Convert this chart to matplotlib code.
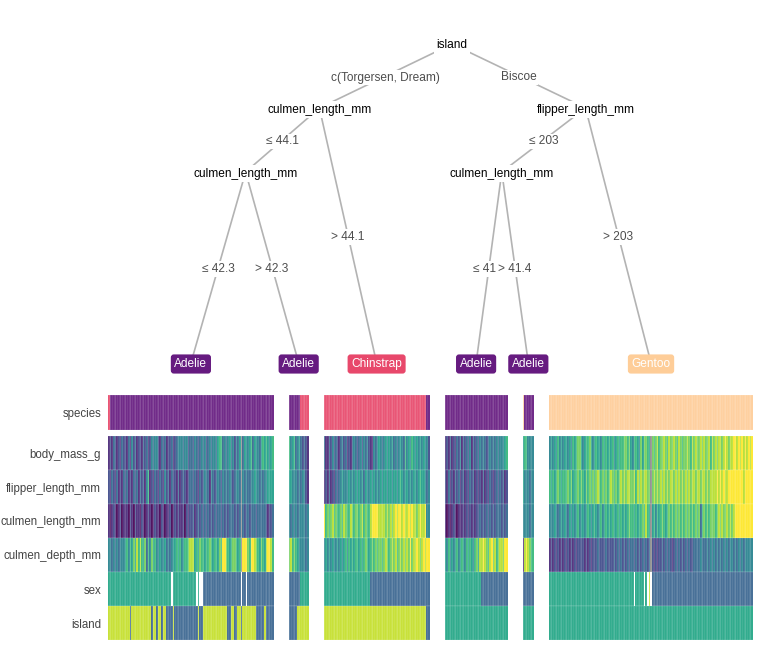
import matplotlib.pyplot as plt
import numpy as np
from matplotlib import cm

plt.rcParams['font.family'] = ['Liberation Sans', 'DejaVu Sans']

# ---- leaves (left to right) ----
leaf_class = ['Adelie', 'Adelie', 'Chinstrap', 'Adelie', 'Adelie', 'Gentoo']
leaf_n = [100, 12, 64, 38, 7, 123]

species_runs = [
    [('Chinstrap', 1), ('Adelie', 99)],
    [('Adelie', 7), ('Chinstrap', 5)],
    [('Chinstrap', 62), ('Adelie', 2)],
    [('Adelie', 38)],
    [('Gentoo', 1), ('Adelie', 6)],
    [('Gentoo', 123)],
]

# continuous features, scaled 0..9 per column (n = missing)
body_mass = [
    "1213212132 2131423122 1323124344 2132312231 2344434423 3243234342 3434435663 4345342435 n354456354 4356565456",
    "645634532321",
    "3113242321 3423121343 2342434211 4345434545 4534345436 4546545454 5442",
    "1213121324 1323241323 2434323434 34344456",
    "5664444",
    "4545464545 5454656775 4566754565 5465656564 5656677675 4665475776 5n76786778 7687787687 6778768787 7878778687 8788789878 8998989898 989",
]
flipper = [
    "2132131213 2312132313 2314612132 1321423132 2131232123 3232132343 3143234324 3434323443 n434334454 4343445555",
    "554443434421",
    "1213121323 4544454545 4545354454 5454545545 5455456545 5454554565 5434",
    "2131213231 2312132312 1213121321 23232312",
    "5444344",
    "6565676566 6767566767 6576767678 7676767876 7678787887 7868787887 7n78787878 7878878787 8787878878 8788787888 8989898899 9999999899 999",
]
culmen_len = [
    "1012101201 1102102110 2101210121 1021011201 2121120212 2312323232 3232323323 2323332323 n323323332 3333321223",
    "434343444434",
    "9676786766 7687668767 7678676689 9998888787 8789899898 8989887898 8944",
    "1010121011 1212121212 2323232323 23332323",
    "4444344",
    "4445434545 4354545645 5456545654 5645656565 5656565676 6565667686 5n56465676 5676767676 7676767676 7367676777 6787877878 7899999999 999",
]
culmen_dep = [
    "4434343444 5646575868 6573647564 4544534345 5656456678 8856576656 6765665769 9765677656 n999769987 6576589986",
    "786765444434",
    "4545454454 5456465656 6565676567 6767767876 7878678787 8797889878 9899",
    "5464545645 6546565467 5889876897 86788799",
    "1898766",
    "1212121212 1212121222 2121212223 2222322223 2323232323 3232323232 3n21212232 3232123232 3232322333 3433343434 3434343434 4343434344 444",
]

sex_runs = [
    [('F', 38), ('NA', 1), ('F', 14), ('NA', 1), ('F', 1), ('NA', 2), ('M', 23), ('NA', 1), ('M', 2), ('NA', 1), ('M', 16)],
    [('M', 7), ('F', 5)],
    [('F', 28), ('M', 36)],
    [('F', 22), ('M', 16)],
    [('M', 7)],
    [('F', 51), ('NA', 1), ('F', 5), ('NA', 1), ('F', 1), ('NA', 1), ('.', 1), ('NA', 1), ('M', 61)],
]
island_runs = [
    [('D', 13), ('T', 1), ('D', 12), ('T', 1), ('D', 2), ('T', 1), ('D', 2), ('T', 1), ('D', 2), ('T', 4), ('D', 1),
     ('T', 14), ('D', 1), ('T', 2), ('D', 15), ('T', 2), ('D', 2), ('T', 2), ('D', 2), ('T', 1), ('D', 8), ('T', 5),
     ('D', 1), ('T', 5)],
    [('T', 5), ('D', 7)],
    [('D', 62), ('T', 2)],
    [('B', 38)],
    [('B', 7)],
    [('B', 123)],
]

row_labels = ['species', 'body_mass_g', 'flipper_length_mm', 'culmen_length_mm', 'culmen_depth_mm', 'sex', 'island']

# ---- tree ----
node_label = ['island', 'culmen_length_mm', 'culmen_length_mm', 'flipper_length_mm', 'culmen_length_mm']
node_x = [207.5, 127.5, 83.0, 288.0, 237.5]
node_level = [0, 1, 2, 1, 2]
edges = [
    (0, 1, 'c(Torgersen, Dream)'), (0, 3, 'Biscoe'),
    (1, 2, '≤ 44.1'), (1, 'L2', '> 44.1'),
    (2, 'L0', '≤ 42.3'), (2, 'L1', '> 42.3'),
    (3, 4, '≤ 203'), (3, 'L5', '> 203'),
    (4, 'L3', '≤ 41.4'), (4, 'L4', '> 41.4'),
]

species_col = {'Adelie': '#661b80', 'Chinstrap': '#e8486b', 'Gentoo': '#fecd98'}
sex_col = {'F': '#21a585', 'M': '#3a6690', '.': '#c4df2a', 'NA': 'white'}
island_col = {'B': '#21a585', 'D': '#c4df2a', 'T': '#3a6690'}
na_col = '#8c8c8c'

gap = 9
W, H = 764, 662
fig = plt.figure(figsize=(W / 100, H / 100), dpi=100)

# column positions of each leaf block
starts = []
pos = 0
for n in leaf_n:
    starts.append(pos)
    pos += n + gap
total = pos - gap
leaf_x = [s + n / 2 for s, n in zip(starts, leaf_n)]


def expand(runs, cmap):
    out = []
    for key, k in runs:
        out += [cmap[key]] * k
    return out


def digits(s):
    s = s.replace(' ', '')
    return [na_col if c == 'n' else cm.viridis(int(c) / 9) for c in s]


rows = [[], [], [], [], [], [], []]
xs = []
for i in range(len(leaf_n)):
    n = leaf_n[i]
    xs += list(range(starts[i], starts[i] + n))
    rows[0] += expand(species_runs[i], species_col)
    rows[1] += digits(body_mass[i])
    rows[2] += digits(flipper[i])
    rows[3] += digits(culmen_len[i])
    rows[4] += digits(culmen_dep[i])
    rows[5] += expand(sex_runs[i], sex_col)
    rows[6] += expand(island_runs[i], island_col)
for r in rows:
    assert len(r) == len(xs), (len(r), len(xs))

# ---- heatmap ----
x0, x1 = 108, 753
hm = fig.add_axes([x0 / W, (H - 642) / H, (x1 - x0) / W, (642 - 393) / H])
hm.set_xlim(0, total)
hm.set_ylim(642, 393)
row_top = [395] + [436 + 34 * i for i in range(6)]
row_h = [35] + [34] * 6
for r, top, h in zip(rows, row_top, row_h):
    hm.bar(xs, h, bottom=top, width=1, align='edge', color=r,
           edgecolor=(1, 1, 1, 0.32), linewidth=0.35)
hm.set_yticks([t + h / 2 for t, h in zip(row_top, row_h)], row_labels)
hm.tick_params(axis='y', length=0, pad=5, labelsize=8.3, labelcolor='#444444')
hm.set_xticks([])
for s in hm.spines.values():
    s.set_visible(False)

# ---- tree ----
tr = fig.add_axes([x0 / W, (H - 385) / H, (x1 - x0) / W, 385 / H])
tr.set_xlim(0, total)
tr.set_ylim(385, 0)
tr.axis('off')
level_y = [44, 108, 172]
leaf_y = 363
txt_dy = 1.5  # text sits a touch lower than the node point


def node_pos(k):
    if isinstance(k, str):
        return leaf_x[int(k[1:])], leaf_y
    return node_x[k], level_y[node_level[k]]


for z, (a, b, lab) in enumerate(edges):
    (xa, ya), (xb, yb) = node_pos(a), node_pos(b)
    tr.plot([xa, xb], [ya, yb], color='#b3b3b3', lw=1.2, zorder=1, solid_capstyle='butt')
    tr.text((xa + xb) / 2, (ya + yb) / 2 + txt_dy, lab, ha='center', va='center', fontsize=8.6,
            color='#4d4d4d', zorder=2 + z * 0.01,
            bbox=dict(boxstyle='square,pad=0.15', fc='white', ec='none'))

for k, lab in enumerate(node_label):
    x, y = node_pos(k)
    tr.text(x, y + txt_dy, lab, ha='center', va='center', fontsize=8.6, color='black', zorder=4,
            bbox=dict(boxstyle='square,pad=0.2', fc='white', ec='none'))

for i, cls in enumerate(leaf_class):
    tr.text(leaf_x[i], leaf_y + 1, cls, ha='center', va='center', fontsize=8.6, color='white', zorder=5,
            bbox=dict(boxstyle='round,pad=0.3,rounding_size=0.25', fc=species_col[cls], ec='none'))

fig.savefig('out.png', dpi=100)
